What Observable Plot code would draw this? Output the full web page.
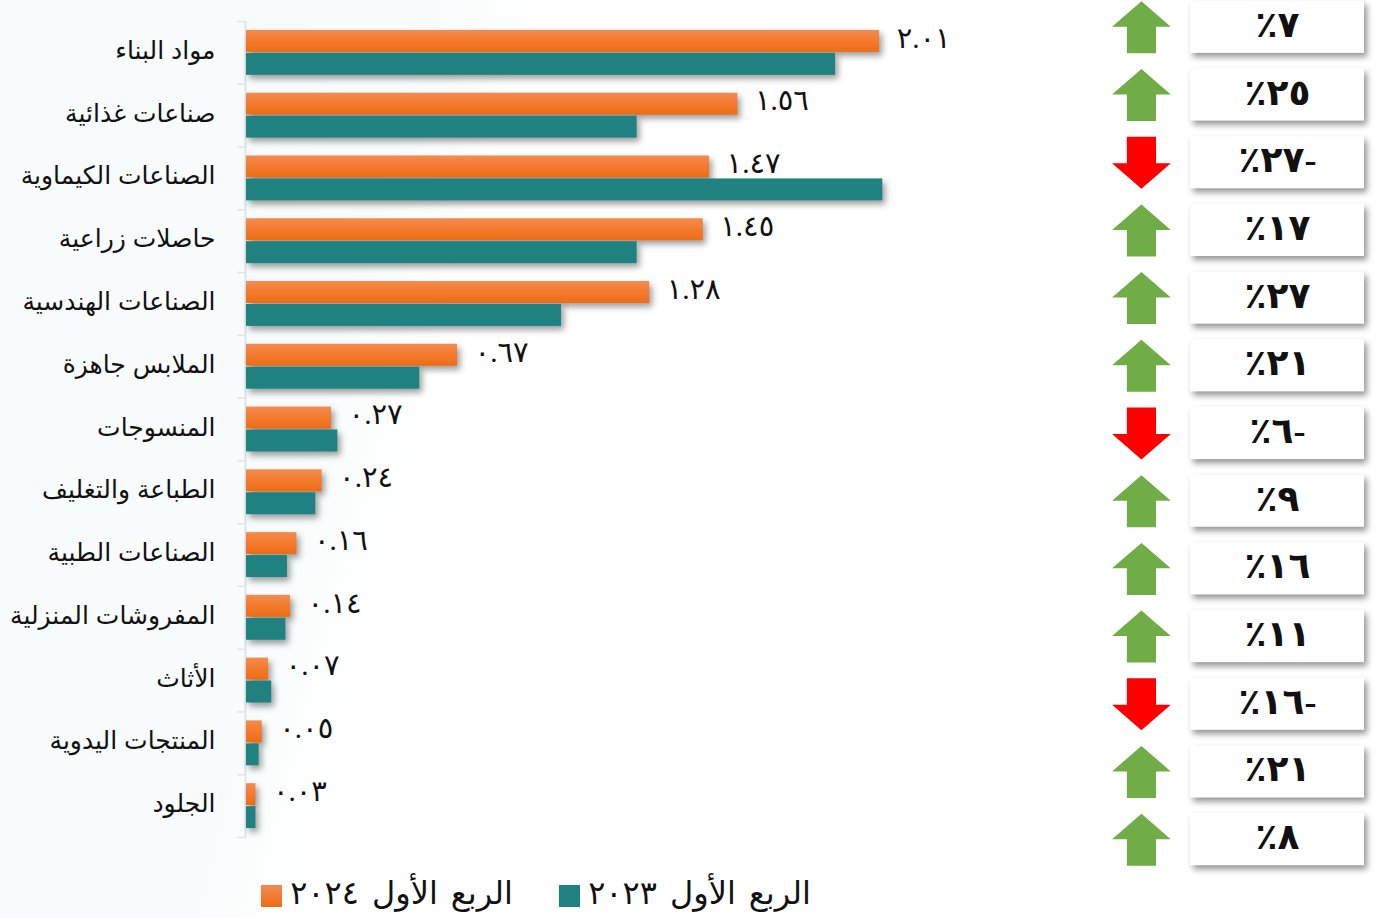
<!DOCTYPE html>
<html lang="ar"><head><meta charset="utf-8">
<script src="https://cdn.jsdelivr.net/npm/d3@7"></script>
<script src="https://cdn.jsdelivr.net/npm/@observablehq/plot@0.6"></script>
<style>
html,body{margin:0;padding:0;background:#fff;width:1393px;height:918px;overflow:hidden}
#stage{position:relative;width:1393px;height:918px;font-family:"Liberation Sans","DejaVu Sans",sans-serif;
  background:linear-gradient(105deg,#f7fbfb 0,#f8fcfc 26%,#fff 33%)}
#stage svg{position:absolute;left:0;top:0;max-width:none;overflow:visible}
.bars rect{filter:drop-shadow(3px 4px 3px rgba(0,0,0,.38))}
.boxes rect{filter:drop-shadow(3px 4px 3px rgba(0,0,0,.42))}
.lg{position:absolute;top:873px;font-size:32px;line-height:40px;word-spacing:5px;color:#111;white-space:nowrap;direction:rtl;font-family:"Liberation Serif","DejaVu Sans",serif}
.sw{position:absolute;top:885px;width:21px;height:22px}
</style></head><body><div id="stage"></div>
<script>
const categories = ["مواد البناء","صناعات غذائية","الصناعات الكيماوية","حاصلات زراعية","الصناعات الهندسية","الملابس جاهزة","المنسوجات","الطباعة والتغليف","الصناعات الطبية","المفروشات المنزلية","الأثاث","المنتجات اليدوية","الجلود"];
const q1_2024 = [2.01,1.56,1.47,1.45,1.28,0.67,0.27,0.24,0.16,0.14,0.07,0.05,0.03];
const q1_2023 = [1.87,1.24,2.02,1.24,1.00,0.55,0.29,0.22,0.13,0.125,0.08,0.04,0.03];
const changes = [7,25,-27,17,27,21,-6,9,16,11,-16,21,8];
const seriesNames = ["الربع الأول ٢٠٢٤","الربع الأول ٢٠٢٣"];

const ar = s => String(s).replace(/\d/g, d => "٠١٢٣٤٥٦٧٨٩"[d]);
const rows = categories.flatMap((c,i)=>[
  {c, s:seriesNames[0], v:q1_2024[i]},
  {c, s:seriesNames[1], v:q1_2023[i]}]);
const changeRows = categories.map((c,i)=>({c, v:changes[i]}));
const stage = document.getElementById("stage");
const FONT = '"Liberation Serif","DejaVu Sans",serif';

const defs = () => {
  const d = d3.create("svg:defs");
  const g = d.append("linearGradient").attr("id","og").attr("x1",0).attr("x2",0).attr("y1",0).attr("y2",1);
  g.append("stop").attr("offset","0").attr("stop-color","#f48b50");
  g.append("stop").attr("offset","0.5").attr("stop-color","#f47a2c");
  g.append("stop").attr("offset","1").attr("stop-color","#ec6d16");
  return d.node();
};

const xScale = {domain:[0,1147/315], range:[246,1393], axis:null};

// axis line and boundary ticks
stage.append(Plot.plot({
  width:1393,height:918,margin:0,style:{background:"transparent"},
  x:xScale,
  y:{domain:[0,13],range:[21,837],axis:null},
  marks:[
    Plot.ruleX([0],{y1:0,y2:13,stroke:"#dfe4ec",strokeWidth:2,dx:-1}),
    Plot.ruleY(d3.range(14),{x1:-0.028,x2:0,stroke:"#dfe4ec",strokeWidth:1.5})
  ]
}));

// grouped bars
stage.append(Plot.plot({
  width:1393,height:918,marginLeft:246,marginRight:0,marginTop:21,marginBottom:81,
  style:{background:"transparent"},
  x:{domain:xScale.domain,axis:null},
  fy:{domain:categories,padding:0,round:false,axis:null},
  y:{domain:seriesNames,paddingInner:0.043,paddingOuter:0.39,round:false,axis:null},
  marks:[
    defs,
    Plot.barX(rows,{x:"v",y:"s",fy:"c",className:"bars",fill:d=>d.s===seriesNames[0]?"url(#og)":"#1f8280"}),
    Plot.axisFy({anchor:"left",tickSize:0,tickPadding:31,fontSize:25,label:null,fill:"#111",dy:-2,
      fontFamily:'"Liberation Sans","DejaVu Sans",sans-serif'}),
    Plot.text(rows.filter(d=>d.s===seriesNames[0]),{x:"v",y:"s",fy:"c",text:d=>ar(d.v.toFixed(2)),
      textAnchor:"start",dx:17,dy:-3,fontSize:29,fontFamily:FONT,fill:"#111"})
  ]
}));

// change boxes and arrows
const up = {draw(c,s){const r=Math.sqrt(s);c.moveTo(0,-r);c.lineTo(r*1.13,-r*0.02);c.lineTo(r*.56,-r*0.02);c.lineTo(r*.56,r);c.lineTo(-r*.56,r);c.lineTo(-r*.56,-r*0.02);c.lineTo(-r*1.13,-r*0.02);c.closePath();}};
const down = {draw(c,s){const r=Math.sqrt(s);c.moveTo(0,r);c.lineTo(r*1.13,r*0.02);c.lineTo(r*.56,r*0.02);c.lineTo(r*.56,-r);c.lineTo(-r*.56,-r);c.lineTo(-r*.56,r*0.02);c.lineTo(-r*1.13,r*0.02);c.closePath();}};
const pctSvg = Plot.plot({
  width:1393,height:918,margin:0,style:{background:"transparent",direction:"rtl"},
  x:{domain:[0,1],range:[1190,1364],axis:null},
  y:{domain:categories,range:[-7,873],paddingInner:0.23,paddingOuter:0.115,round:false,axis:null},
  marks:[
    Plot.barX(changeRows,{x1:0,x2:1,y:"c",fill:"#fff",className:"boxes"}),
    Plot.dot(changeRows.filter(d=>d.v>=0),{x:-0.282,y:"c",r:14.67,fill:"#70ad47",stroke:"none",symbol:up}),
    Plot.dot(changeRows.filter(d=>d.v<0),{x:-0.282,y:"c",r:14.67,fill:"#ff0000",stroke:"none",symbol:down}),
    Plot.text(changeRows,{x:0.5,y:"c",dy:-2,text:d=>(d.v<0?"-":"")+ar(Math.abs(d.v))+"٪",fontSize:36,fontWeight:"bold",fontFamily:FONT,fill:"#111",textAnchor:"middle"})
  ]
});
stage.append(pctSvg);

// legend
[[261,"linear-gradient(#f48b50,#ec6d16)"],[559,"#1f8280"]].forEach(([x,bg])=>{
  const s=document.createElement("div");s.className="sw";s.style.left=x+"px";s.style.background=bg;stage.append(s);
});
[[seriesNames[0],880],[seriesNames[1],582]].forEach(([t,r])=>{
  const s=document.createElement("div");s.className="lg";s.style.right=r+"px";s.textContent=t;stage.append(s);
});
</script></body></html>
